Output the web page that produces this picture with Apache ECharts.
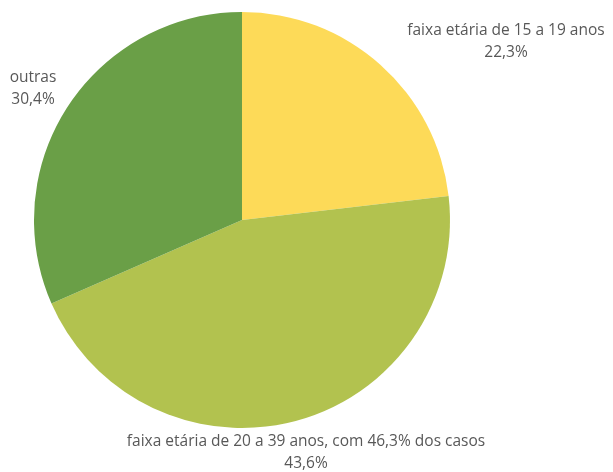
<!DOCTYPE html>
<html>
<head>
<meta charset="utf-8">
<script src="https://cdn.jsdelivr.net/npm/echarts@6/dist/echarts.min.js"></script>
<style>
  html, body { margin: 0; padding: 0; background: #fff; }
  #chart { width: 613px; height: 472px; }
</style>
</head>
<body>
<div id="chart"></div>
<script>
// Distribution of cases by age group
const categories = [
  'faixa etária de 15 a 19 anos',
  'faixa etária de 20 a 39 anos, com 46,3% dos casos',
  'outras'
];
const values = [22.3, 43.6, 30.4];
const colors = ['#FDDA58', '#B2C24F', '#6A9F47'];

// label anchor points (text centres) for each slice
const labelSpots = [
  { x: 506, y: 42 },
  { x: 306, y: 453 },
  { x: 33, y: 89 }
];

const chart = echarts.init(document.getElementById('chart'));
chart.setOption({
  animation: false,
  series: [{
    type: 'pie',
    center: [242, 220],
    radius: 208,
    startAngle: 90,
    clockwise: true,
    data: categories.map((name, i) => ({
      name: name,
      value: values[i],
      itemStyle: { color: colors[i] }
    })),
    label: {
      show: true,
      position: 'outside',
      formatter: p => p.name + '\n' + p.value.toFixed(1).replace('.', ',') + '%',
      fontFamily: 'Open Sans',
      fontSize: 15.5,
      lineHeight: 22,
      color: '#585858',
      align: 'center',
      overflow: 'none',
      width: 500
    },
    labelLine: { show: false },
    labelLayout: p => ({
      x: labelSpots[p.dataIndex].x,
      y: labelSpots[p.dataIndex].y,
      align: 'center',
      verticalAlign: 'middle'
    }),
    emphasis: { disabled: true }
  }]
});
</script>
</body>
</html>
